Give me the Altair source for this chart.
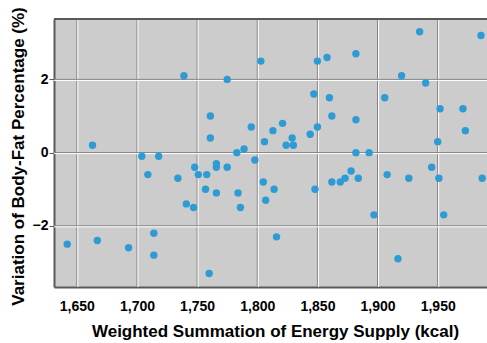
import altair as alt
import pandas as pd

# Data
energy = [1663, 1704, 1718, 1739, 1775, 1761, 1761, 1783, 1789, 1795,
          1748, 1766, 1766, 1775, 1709, 1734, 1751, 1758, 1757, 1766,
          1784, 1741, 1747, 1786, 1642, 1667, 1693, 1714, 1714, 1760,
          1803, 1850, 1858, 1882, 1935, 1986, 1920, 1940, 1847, 1860,
          1906, 1952, 1971, 1862, 1882, 1973, 1821, 1813, 1850, 1844,
          1829, 1806, 1824, 1830, 1950, 1882, 1893, 1798, 1878, 1945,
          1805, 1814, 1807, 1816, 1848, 1862, 1869, 1873, 1884, 1908,
          1926, 1951, 1987, 1897, 1955, 1917]
bodyfat = [0.2, -0.1, -0.1, 2.1, 2.0, 1.0, 0.4, 0.0, 0.1, 0.7,
           -0.4, -0.3, -0.4, -0.4, -0.6, -0.7, -0.6, -0.6, -1.0, -1.1,
           -1.1, -1.4, -1.5, -1.5, -2.5, -2.4, -2.6, -2.2, -2.8, -3.3,
           2.5, 2.5, 2.6, 2.7, 3.3, 3.2, 2.1, 1.9, 1.6, 1.5,
           1.5, 1.2, 1.2, 1.0, 0.9, 0.6, 0.8, 0.6, 0.7, 0.5,
           0.4, 0.3, 0.2, 0.2, 0.3, 0.0, 0.0, -0.2, -0.5, -0.4,
           -0.8, -1.0, -1.3, -2.3, -1.0, -0.8, -0.8, -0.7, -0.7, -0.6,
           -0.7, -0.7, -0.7, -1.7, -1.7, -2.9]
x_ticks = [1650, 1700, 1750, 1800, 1850, 1900, 1950]
y_ticks = [-2, 0, 2]

x_title = "Weighted Summation of Energy Supply (kcal)"
y_title = "Variation of Body-Fat Percentage (%)"

df = pd.DataFrame({"x": energy, "y": bodyfat})
gx = pd.DataFrame({"x": x_ticks})
gy = pd.DataFrame({"y": y_ticks})

W, H = 433, 268
FONT = "Liberation Sans"
FRAME = "#595959"

x_scale = alt.Scale(domain=[1631, 1991], nice=False, zero=False)
y_scale = alt.Scale(domain=[-3.67, 3.65], nice=False, zero=False)

x_axis = alt.Axis(values=x_ticks, format=",d", grid=False, ticks=False,
                  labelPadding=12, labelFont=FONT, labelFontSize=14,
                  labelFontWeight="bold", labelColor="black",
                  domainColor=FRAME, domainWidth=2,
                  title=x_title, titleFont=FONT, titleFontSize=17,
                  titleFontWeight="bold", titleColor="black",
                  titlePadding=10, titleX=221)
y_axis = alt.Axis(values=y_ticks, format="d", grid=False, ticks=True,
                  tickSize=5, tickColor=FRAME, labelPadding=1,
                  labelFont=FONT, labelFontSize=14, labelFontWeight="bold",
                  labelColor="black", domainColor=FRAME, domainWidth=2,
                  title=y_title, titleFont=FONT, titleFontSize=17,
                  titleFontWeight="bold", titleColor="black",
                  titlePadding=5, titleY=137)

X = alt.X("x:Q", scale=x_scale, axis=x_axis)
Y = alt.Y("y:Q", scale=y_scale, axis=y_axis)

vgrid_dark = alt.Chart(gx).mark_rule(color="#7f7f7f", strokeWidth=1).encode(x=X)
vgrid_light = alt.Chart(gx).mark_rule(color="white", strokeWidth=1, xOffset=1).encode(x=X)
hgrid_dark = alt.Chart(gy).mark_rule(color="#7f7f7f", strokeWidth=1).encode(y=Y)
hgrid_light = alt.Chart(gy).mark_rule(color="white", strokeWidth=1, yOffset=1).encode(y=Y)

top_border = alt.Chart(gy).mark_rule(color=FRAME, strokeWidth=2).encode(
    x=alt.value(0), x2=alt.value(W), y=alt.value(0))

points = alt.Chart(df).mark_circle(size=55, opacity=1, color="#2f9bd5").encode(x=X, y=Y)

chart = alt.layer(
    vgrid_dark, vgrid_light, hgrid_dark, hgrid_light, top_border, points
).properties(
    width=W, height=H,
    autosize="none",
    padding={"left": 54, "top": 19, "right": 0, "bottom": 56},
    background="white",
).configure_view(fill="#cccccc", stroke=None)

chart.save("out.html", embed_options={"renderer": "svg", "actions": False})
